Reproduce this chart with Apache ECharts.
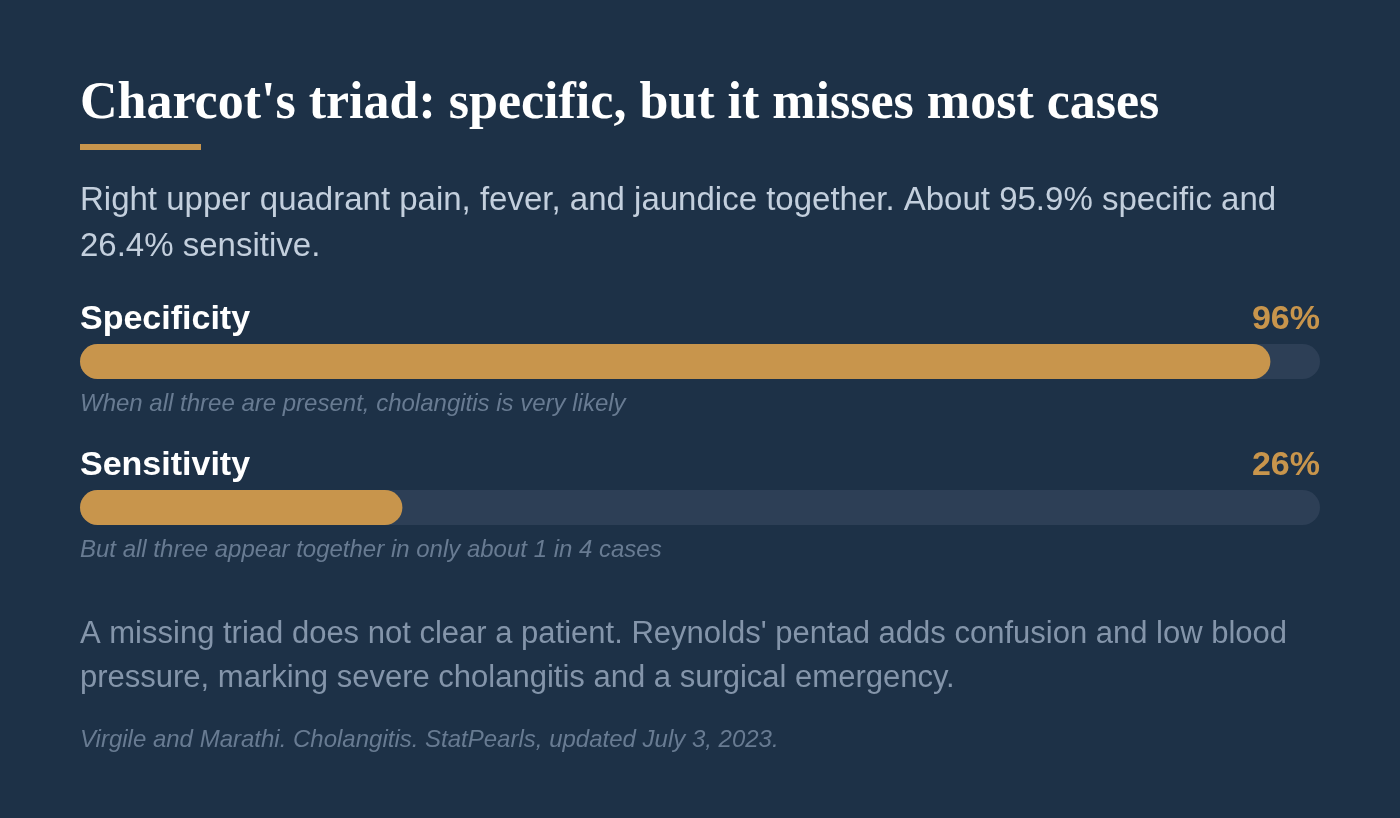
<!DOCTYPE html>
<html><head><meta charset="utf-8">
<script src="https://cdn.jsdelivr.net/npm/echarts@6/dist/echarts.min.js"></script>
<style>html,body{margin:0;padding:0;background:#1d3147;}#c{width:1400px;height:818px;}</style>
</head><body><div id="c"></div>
<script>
const metrics = ['Specificity', 'Sensitivity'];
const values = [96, 26];
const captions = ['When all three are present, cholangitis is very likely', 'But all three appear together in only about 1 in 4 cases'];
const titleText = "Charcot's triad: specific, but it misses most cases";
const subtitleText = 'Right upper quadrant pain, fever, and jaundice together. About 95.9% specific and\n26.4% sensitive.';
const noteText = "A missing triad does not clear a patient. Reynolds' pentad adds confusion and low blood\npressure, marking severe cholangitis and a surgical emergency.";
const sourceText = 'Virgile and Marathi. Cholangitis. StatPearls, updated July 3, 2023.';

const BG = '#1d3147', GOLD = '#c8954c', TRACK = '#2d3f56';
const SANS = '"Liberation Sans", Arial, Helvetica, sans-serif';
const barTops = [344, 490];
const chart = echarts.init(document.getElementById('c'), null, {renderer: 'canvas'});

const grids = [], xAxes = [], yAxes = [], series = [], graphics = [];
metrics.forEach((m, i) => {
  grids.push({left: 80, right: 80, top: barTops[i], height: 35, containLabel: false});
  xAxes.push({type: 'value', gridIndex: i, min: 0, max: 100, show: false});
  yAxes.push({type: 'category', gridIndex: i, data: [m], show: false});
  series.push({
    type: 'bar', xAxisIndex: i, yAxisIndex: i, data: [values[i]], barWidth: 35,
    showBackground: true, backgroundStyle: {color: TRACK, borderRadius: 17.5},
    itemStyle: {color: GOLD, borderRadius: 17.5}, silent: true, animation: false
  });
  graphics.push({type: 'text', left: 80, top: barTops[i] - 41, style: {text: m, fill: '#ffffff', font: 'bold 34px ' + SANS}});
  graphics.push({type: 'text', right: 80, top: barTops[i] - 41, style: {text: values[i] + '%', fill: GOLD, font: 'bold 34px ' + SANS}});
  graphics.push({type: 'text', left: 80, top: barTops[i] + 48, style: {text: captions[i], fill: '#687b92', font: 'italic 24px ' + SANS}});
});

graphics.push({type: 'text', left: 80, top: 79, style: {text: titleText, fill: '#ffffff', font: 'bold 52px "Liberation Serif", "Times New Roman", serif'}});
graphics.push({type: 'rect', left: 80, top: 144, shape: {width: 121, height: 6}, style: {fill: GOLD}});
graphics.push({type: 'text', left: 80, top: 178, style: {text: subtitleText, fill: '#c3cfdd', font: '33px ' + SANS, lineHeight: 46}});
graphics.push({type: 'text', left: 80, top: 612, style: {text: noteText, fill: '#8495aa', font: '31px ' + SANS, lineHeight: 44}});
graphics.push({type: 'text', left: 80, top: 728, style: {text: sourceText, fill: '#687b92', font: 'italic 24px ' + SANS}});

chart.setOption({
  backgroundColor: BG,
  animation: false,
  grid: grids, xAxis: xAxes, yAxis: yAxes, series: series,
  graphic: graphics
});
</script></body></html>
